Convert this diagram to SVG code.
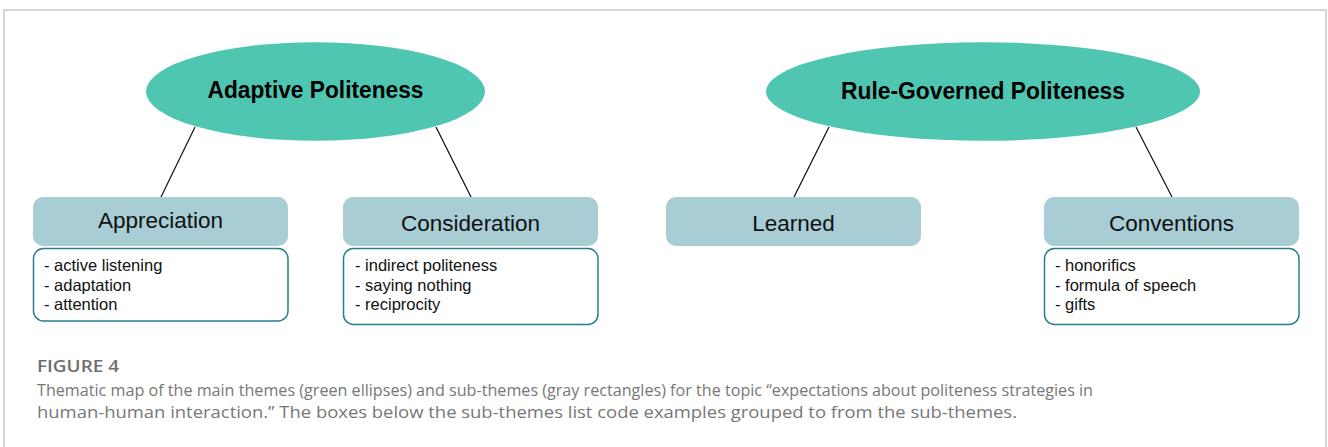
<svg xmlns="http://www.w3.org/2000/svg" width="1328" height="447" viewBox="0 0 1328 447">
<style>
.frame{fill:#fff;stroke:#c8c8c8;stroke-width:1.5}
.theme{fill:#4fc6b1}
.themeT{font-family:"Liberation Sans",Arial,sans-serif;font-weight:bold;font-size:23px;fill:#000;text-anchor:middle}
.sub{fill:#a8cdd4}
.subT{font-family:"Liberation Sans",Arial,sans-serif;font-size:22.5px;fill:#111;text-anchor:middle}
.list{fill:#fff;stroke:#2a7d8e;stroke-width:1.5}
.listT{font-family:"Liberation Sans",Arial,sans-serif;font-size:16.5px;fill:#111}
.conn line{stroke:#111;stroke-width:1.2}
.capH{font-family:"Open Sans",sans-serif;font-weight:600;font-size:17px;fill:#6e6e6e}
.cap{font-family:"Open Sans",sans-serif;font-size:16px;fill:#777}
</style>
<rect class="frame" x="4" y="10" width="1322" height="460"/>
<g id="connectors" class="conn">
<line x1="195" y1="127" x2="161" y2="197"/>
<line x1="436" y1="127" x2="471" y2="197"/>
<line x1="829" y1="127" x2="794" y2="197"/>
<line x1="1136" y1="127" x2="1172" y2="197"/>
</g>
<g id="adaptive-politeness">
<ellipse class="theme" cx="315.5" cy="91.5" rx="169.5" ry="49.3"/>
<text class="themeT" x="315.5" y="98" textLength="216" lengthAdjust="spacingAndGlyphs">Adaptive Politeness</text>
</g>
<g id="rule-governed-politeness">
<ellipse class="theme" cx="983" cy="91.5" rx="217" ry="49.3"/>
<text class="themeT" x="983" y="99" textLength="284" lengthAdjust="spacingAndGlyphs">Rule-Governed Politeness</text>
</g>
<g id="appreciation">
<rect class="sub" x="33" y="197" width="255" height="49" rx="10"/>
<text class="subT" x="160.5" y="228">Appreciation</text>
</g>
<g id="appreciation-codes">
<rect class="list" x="33.5" y="248.5" width="254.5" height="72.5" rx="10"/>
<text class="listT" x="44" y="271">- active listening</text>
<text class="listT" x="44" y="290.5">- adaptation</text>
<text class="listT" x="44" y="310">- attention</text>
</g>
<g id="consideration">
<rect class="sub" x="343" y="197" width="255" height="49" rx="10"/>
<text class="subT" x="470.5" y="230.5">Consideration</text>
</g>
<g id="consideration-codes">
<rect class="list" x="343.5" y="248.5" width="254.5" height="76" rx="10"/>
<text class="listT" x="355" y="271">- indirect politeness</text>
<text class="listT" x="355" y="290.5">- saying nothing</text>
<text class="listT" x="355" y="310">- reciprocity</text>
</g>
<g id="learned">
<rect class="sub" x="666" y="197" width="255" height="49" rx="10"/>
<text class="subT" x="793.5" y="230.5">Learned</text>
</g>
<g id="conventions">
<rect class="sub" x="1044" y="197" width="255" height="49" rx="10"/>
<text class="subT" x="1171.5" y="230.5">Conventions</text>
</g>
<g id="conventions-codes">
<rect class="list" x="1044.5" y="248.5" width="254.5" height="76" rx="10"/>
<text class="listT" x="1055" y="271">- honorifics</text>
<text class="listT" x="1055" y="290.5">- formula of speech</text>
<text class="listT" x="1055" y="310">- gifts</text>
</g>
<g id="caption">
<text class="capH" x="37" y="372" textLength="82" lengthAdjust="spacingAndGlyphs">FIGURE 4</text>
<text class="cap" x="37" y="396" textLength="1056" lengthAdjust="spacingAndGlyphs">Thematic map of the main themes (green ellipses) and sub-themes (gray rectangles) for the topic “expectations about politeness strategies in</text>
<text class="cap" x="37" y="418" textLength="980" lengthAdjust="spacingAndGlyphs">human-human interaction.” The boxes below the sub-themes list code examples grouped to from the sub-themes.</text>
</g>
</svg>
